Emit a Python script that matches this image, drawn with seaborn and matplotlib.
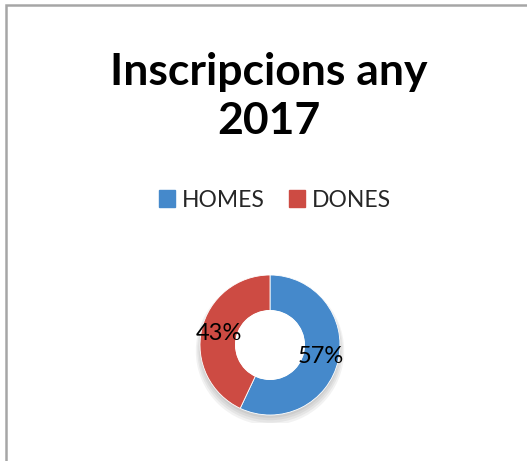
import matplotlib
matplotlib.use("Agg")
import matplotlib.pyplot as plt
import seaborn as sns
import numpy as np
from matplotlib.patches import Rectangle, Circle

sns.set_theme(style="white")
plt.rcParams["font.family"] = ["Lato", "DejaVu Sans"]

# Registrations in 2017 by gender
categories = ["HOMES", "DONES"]
shares = [57, 43]
colors = ["#4589CB", "#CD4B43"]
title_lines = ["Inscripcions any", "2017"]

W, H = 527, 461
fig = plt.figure(figsize=(W / 100, H / 100), dpi=100)
fig.patch.set_facecolor("white")

# Outer chart frame (top and left edges visible)
fig.patches.append(Rectangle((6 / W, -0.2), 1.2, 1 - 5 / H + 0.2,
                             transform=fig.transFigure, fill=False,
                             edgecolor="#A6A6A6", linewidth=1.8))

for yy, line in zip([72, 121], title_lines):
    fig.text(269 / W, 1 - yy / H, line, ha="center", va="center",
             fontsize=32, fontweight="bold", color="black")

# Donut axes
cx, cy, r = 270, 345, 70
pad = 1.12
ax = fig.add_axes([(cx - r * pad) / W, (H - cy - r * pad) / H,
                   2 * r * pad / W, 2 * r * pad / H])
ax.axis("off")

# soft shadow beneath the ring
for i in range(4):
    ax.add_patch(Circle((0, -0.04 - 0.015 * i), 1.0 + 0.02 * i,
                        color="black", alpha=0.05, lw=0, zorder=0))

wedges, _ = ax.pie(shares, colors=colors, startangle=90, counterclock=False,
                   radius=1.0, wedgeprops=dict(width=0.51, edgecolor="white",
                                               linewidth=0.6))
ax.add_patch(Circle((0, 0), 0.49, color="white", zorder=5))
ax.set_xlim(-pad, pad)
ax.set_ylim(-pad, pad)
ax.set_aspect("equal")

for w, v in zip(wedges, shares):
    mid = np.deg2rad((w.theta1 + w.theta2) / 2)
    rr = 0.745
    ax.text(rr * np.cos(mid), rr * np.sin(mid), f"{v}%", ha="center",
            va="center", fontsize=17, color="black", zorder=10)

# Legend
handles = [Rectangle((0, 0), 1, 1, color=c) for c in colors]
fig.legend(handles, categories, loc="center", bbox_to_anchor=(275 / W, 1 - 200 / H),
           ncol=2, frameon=False, fontsize=16.5, handlelength=0.72, handleheight=0.72,
           handletextpad=0.3, columnspacing=1.05)

fig.savefig("out.png", dpi=100, facecolor="white")
